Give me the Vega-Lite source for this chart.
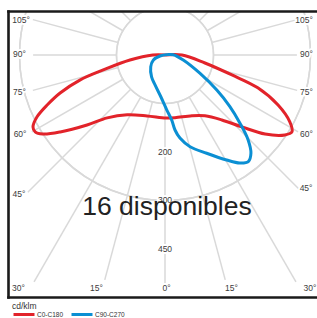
{
  "$schema": "https://vega.github.io/schema/vega-lite/v6.json",
  "width": 309,
  "height": 286,
  "autosize": {"type": "none"},
  "padding": {"left": 8, "top": 11, "right": 0, "bottom": 21},
  "config": {"view": {"stroke": null}, "font": "Liberation Sans"},
  "datasets": {
    "rings": [{"r": 100}, {"r": 200}, {"r": 300}, {"r": 400}, {"r": 500}],
    "spokes": [
      {"a": 0, "L": 470}, {"a": 15, "L": 480}, {"a": -15, "L": 480},
      {"a": 30, "L": 540}, {"a": -30, "L": 540}, {"a": 45, "L": 400}, {"a": -45, "L": 400},
      {"a": 60, "L": 317}, {"a": -60, "L": 317}, {"a": 75, "L": 282}, {"a": -75, "L": 282},
      {"a": 90, "L": 272}, {"a": -90, "L": 272}, {"a": 105, "L": 282}, {"a": -105, "L": 282},
      {"a": 120, "L": 700}, {"a": -120, "L": 700}, {"a": 135, "L": 700}, {"a": -135, "L": 700},
      {"a": 150, "L": 700}, {"a": -150, "L": 700}, {"a": 165, "L": 700}, {"a": -165, "L": 700},
      {"a": 180, "L": 700}
    ],
    "labels": [
      {"t": "105°", "a": -103.7, "r": 305.6}, {"t": "90°", "a": -90.4, "r": 300},
      {"t": "75°", "a": -75.7, "r": 309.6}, {"t": "60°", "a": -61.4, "r": 340.4},
      {"t": "45°", "a": -46.4, "r": 415.7}, {"t": "30°", "a": -32.2, "r": 567.4},
      {"t": "15°", "a": -16.4, "r": 500.8}, {"t": "0°", "a": 0.4, "r": 480.4},
      {"t": "15°", "a": 15.9, "r": 499.6}, {"t": "30°", "a": 31.9, "r": 565.8},
      {"t": "45°", "a": 46.7, "r": 399.6}, {"t": "60°", "a": 60.8, "r": 334.2},
      {"t": "75°", "a": 75.3, "r": 301.6}, {"t": "90°", "a": 90.4, "r": 291.8},
      {"t": "105°", "a": 104.1, "r": 295.5},
      {"t": "200", "a": 0, "r": 200}, {"t": "300", "a": 0, "r": 300}, {"t": "450", "a": 0, "r": 400}
    ],
    "curves": [
      {"s": "C0-C180", "i": 0, "a": -90, "v": 0},
      {"s": "C0-C180", "i": 1, "a": -90, "v": 25},
      {"s": "C0-C180", "i": 2, "a": -81.9, "v": 73},
      {"s": "C0-C180", "i": 3, "a": -76.4, "v": 131},
      {"s": "C0-C180", "i": 4, "a": -73.6, "v": 183},
      {"s": "C0-C180", "i": 5, "a": -70.1, "v": 230},
      {"s": "C0-C180", "i": 6, "a": -67.0, "v": 264},
      {"s": "C0-C180", "i": 7, "a": -64.2, "v": 293},
      {"s": "C0-C180", "i": 8, "a": -61.4, "v": 310},
      {"s": "C0-C180", "i": 9, "a": -59.4, "v": 311},
      {"s": "C0-C180", "i": 10, "a": -57.1, "v": 300},
      {"s": "C0-C180", "i": 11, "a": -53.7, "v": 268},
      {"s": "C0-C180", "i": 12, "a": -48.1, "v": 216},
      {"s": "C0-C180", "i": 13, "a": -42.6, "v": 176},
      {"s": "C0-C180", "i": 14, "a": -32.3, "v": 146},
      {"s": "C0-C180", "i": 15, "a": -16.4, "v": 131},
      {"s": "C0-C180", "i": 16, "a": 0.9, "v": 130},
      {"s": "C0-C180", "i": 17, "a": 9.0, "v": 131},
      {"s": "C0-C180", "i": 18, "a": 23.9, "v": 137},
      {"s": "C0-C180", "i": 19, "a": 33.3, "v": 150},
      {"s": "C0-C180", "i": 20, "a": 41.2, "v": 178},
      {"s": "C0-C180", "i": 21, "a": 46.9, "v": 217},
      {"s": "C0-C180", "i": 22, "a": 51.7, "v": 263},
      {"s": "C0-C180", "i": 23, "a": 56.3, "v": 297},
      {"s": "C0-C180", "i": 24, "a": 58.8, "v": 306},
      {"s": "C0-C180", "i": 25, "a": 61.8, "v": 292},
      {"s": "C0-C180", "i": 26, "a": 66.1, "v": 255},
      {"s": "C0-C180", "i": 27, "a": 70.5, "v": 203},
      {"s": "C0-C180", "i": 28, "a": 73.4, "v": 144},
      {"s": "C0-C180", "i": 29, "a": 78.7, "v": 84},
      {"s": "C0-C180", "i": 30, "a": 90, "v": 35},
      {"s": "C0-C180", "i": 31, "a": 90, "v": 0},
      {"s": "C90-C270", "i": 0, "a": 99, "v": 6},
      {"s": "C90-C270", "i": 1, "a": -78.7, "v": 10.5},
      {"s": "C90-C270", "i": 2, "a": -66.9, "v": 26},
      {"s": "C90-C270", "i": 3, "a": -50.7, "v": 38},
      {"s": "C90-C270", "i": 4, "a": -31.5, "v": 53},
      {"s": "C90-C270", "i": 5, "a": -18.4, "v": 65},
      {"s": "C90-C270", "i": 6, "a": -5.9, "v": 86},
      {"s": "C90-C270", "i": 7, "a": 1.8, "v": 113},
      {"s": "C90-C270", "i": 8, "a": 5.9, "v": 135},
      {"s": "C90-C270", "i": 9, "a": 7.6, "v": 156},
      {"s": "C90-C270", "i": 10, "a": 10.2, "v": 174},
      {"s": "C90-C270", "i": 11, "a": 15.3, "v": 196},
      {"s": "C90-C270", "i": 12, "a": 23.0, "v": 220},
      {"s": "C90-C270", "i": 13, "a": 30.4, "v": 251},
      {"s": "C90-C270", "i": 14, "a": 34.7, "v": 271},
      {"s": "C90-C270", "i": 15, "a": 38.0, "v": 279},
      {"s": "C90-C270", "i": 16, "a": 41.2, "v": 269},
      {"s": "C90-C270", "i": 17, "a": 44.4, "v": 245},
      {"s": "C90-C270", "i": 18, "a": 47.7, "v": 209},
      {"s": "C90-C270", "i": 19, "a": 51.5, "v": 171},
      {"s": "C90-C270", "i": 20, "a": 55.9, "v": 129},
      {"s": "C90-C270", "i": 21, "a": 62.4, "v": 81},
      {"s": "C90-C270", "i": 22, "a": 74.7, "v": 39},
      {"s": "C90-C270", "i": 23, "a": 92, "v": 17},
      {"s": "C90-C270", "i": 24, "a": 99, "v": 6}
    ]
  },
  "resolve": {"axis": {"x": "independent", "y": "independent"}},
  "layer": [
    {
      "data": {"name": "rings"},
      "mark": {"type": "arc", "filled": false, "color": "#d9d9d9", "strokeWidth": 1.5, "theta": 0, "theta2": 6.2832, "clip": true},
      "encoding": {
        "x": {"datum": 0, "type": "quantitative", "scale": {"domain": [-323.71, 313.4], "nice": false, "zero": false}, "axis": null},
        "y": {"datum": 0, "type": "quantitative", "scale": {"domain": [-498.97, 90.72], "nice": false, "zero": false}, "axis": null},
        "radius": {"field": "r", "type": "quantitative", "scale": {"type": "linear", "domain": [0, 500], "range": [0, 242.5], "zero": true}, "legend": null}
      }
    },
    {
      "data": {"name": "spokes"},
      "transform": [
        {"calculate": "100*sin(datum.a*PI/180)", "as": "x1"},
        {"calculate": "-100*cos(datum.a*PI/180)", "as": "y1"},
        {"calculate": "datum.L*sin(datum.a*PI/180)", "as": "x2"},
        {"calculate": "-datum.L*cos(datum.a*PI/180)", "as": "y2"}
      ],
      "mark": {"type": "rule", "color": "#d9d9d9", "strokeWidth": 1.5, "clip": true},
      "encoding": {
        "x": {"field": "x1", "type": "quantitative", "scale": {"domain": [-323.71, 313.4], "nice": false, "zero": false},
          "axis": {"orient": "bottom", "domain": true, "domainColor": "#1a1a1a", "domainWidth": 2.6, "domainCap": "square", "ticks": false, "labels": false, "grid": false, "title": null, "zindex": 2}},
        "y": {"field": "y1", "type": "quantitative", "scale": {"domain": [-498.97, 90.72], "nice": false, "zero": false},
          "axis": {"orient": "left", "domain": true, "domainColor": "#1a1a1a", "domainWidth": 2.6, "domainCap": "square", "ticks": false, "labels": false, "grid": false, "title": null, "zindex": 2}},
        "x2": {"field": "x2"},
        "y2": {"field": "y2"}
      }
    },
    {
      "data": {"name": "labels"},
      "transform": [
        {"calculate": "datum.r*sin(datum.a*PI/180)", "as": "lx"},
        {"calculate": "-datum.r*cos(datum.a*PI/180)", "as": "ly"}
      ],
      "mark": {"type": "text", "fontSize": 8.5, "color": "white", "stroke": "white", "strokeWidth": 4, "strokeJoin": "round", "align": "center", "baseline": "middle", "clip": true},
      "encoding": {
        "x": {"field": "lx", "type": "quantitative", "axis": null},
        "y": {"field": "ly", "type": "quantitative", "axis": null},
        "text": {"field": "t"}
      }
    },
    {
      "data": {"name": "labels"},
      "transform": [
        {"calculate": "datum.r*sin(datum.a*PI/180)", "as": "lx"},
        {"calculate": "-datum.r*cos(datum.a*PI/180)", "as": "ly"}
      ],
      "mark": {"type": "text", "fontSize": 8.5, "color": "#3c3c3c", "align": "center", "baseline": "middle", "clip": true},
      "encoding": {
        "x": {"field": "lx", "type": "quantitative", "axis": null},
        "y": {"field": "ly", "type": "quantitative", "axis": null},
        "text": {"field": "t"}
      }
    },
    {
      "data": {"name": "curves"},
      "transform": [
        {"calculate": "datum.v*sin(datum.a*PI/180)", "as": "px"},
        {"calculate": "-datum.v*cos(datum.a*PI/180)", "as": "py"}
      ],
      "mark": {"type": "line", "strokeWidth": 3, "interpolate": "catmull-rom", "clip": true},
      "encoding": {
        "x": {"field": "px", "type": "quantitative",
          "axis": {"orient": "top", "domain": true, "domainColor": "#1a1a1a", "domainWidth": 2.6, "domainCap": "square", "ticks": false, "labels": false, "grid": false, "title": null, "zindex": 2}},
        "y": {"field": "py", "type": "quantitative", "axis": null},
        "order": {"field": "i", "type": "quantitative"},
        "color": {"field": "s", "type": "nominal",
          "scale": {"domain": ["C0-C180", "C90-C270"], "range": ["#e2232a", "#0b8fd3"]},
          "legend": {"orient": "none", "legendX": 4, "legendY": 291, "direction": "horizontal", "title": "cd/klm",
            "titleFontSize": 8.5, "titleFontWeight": "normal", "titleColor": "#333333", "titlePadding": -8,
            "labelFontSize": 6.5, "labelColor": "#333333", "labelOffset": 1, "symbolType": "stroke", "symbolSize": 441,
            "symbolStrokeWidth": 3, "columnPadding": 1, "padding": 0}}
      }
    },
    {
      "data": {"values": [{"t": "16 disponibles", "x": 4, "y": -330}]},
      "mark": {"type": "text", "fontSize": 26.5, "color": "#222222", "align": "center", "baseline": "alphabetic"},
      "encoding": {
        "x": {"field": "x", "type": "quantitative", "axis": null},
        "y": {"field": "y", "type": "quantitative", "axis": null},
        "text": {"field": "t"}
      }
    }
  ]
}
